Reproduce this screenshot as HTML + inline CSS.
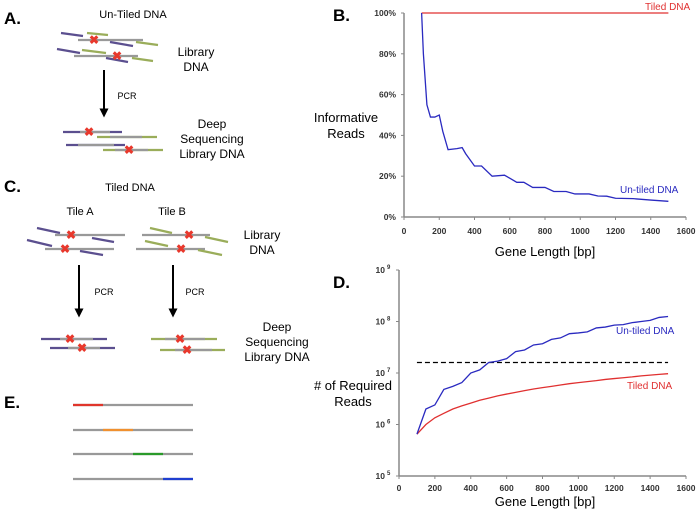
<!DOCTYPE html>
<html><head><meta charset="utf-8"><style>
body{margin:0;background:#fff;}
svg{display:block;font-family:"Liberation Sans",sans-serif;}
.t{font-family:"Liberation Sans",sans-serif;}
</style></head><body>
<svg id="fig" width="700" height="512" viewBox="0 0 700 512">
<defs><marker id="ah" viewBox="0 0 8 8" markerWidth="4.5" markerHeight="4.5" refX="4" refY="4" orient="auto"><path d="M0,0 L8,4 L0,8 z" fill="#000"/></marker></defs>
<!-- Panel A -->
<g>
<text x="4" y="24" font-size="17" font-weight="bold">A.</text>
<text x="133" y="18" font-size="11" text-anchor="middle" class="t">Un-Tiled DNA</text>
<g stroke-width="2.2" fill="none">
<line x1="61" y1="33" x2="83" y2="36" stroke="#5b4f8f"/><line x1="87" y1="33" x2="108" y2="35" stroke="#9aad5a"/>
<line x1="78" y1="40" x2="143" y2="40" stroke="#999"/><line x1="110" y1="42" x2="133" y2="46" stroke="#5b4f8f"/><line x1="136" y1="42" x2="158" y2="45" stroke="#9aad5a"/>
<line x1="57" y1="49" x2="80" y2="53" stroke="#5b4f8f"/><line x1="82" y1="50" x2="106" y2="53" stroke="#9aad5a"/>
<line x1="74" y1="56" x2="138" y2="56" stroke="#999"/><line x1="106" y1="58" x2="128" y2="62" stroke="#5b4f8f"/><line x1="132" y1="58" x2="153" y2="61" stroke="#9aad5a"/>
<line x1="63" y1="132" x2="122" y2="132" stroke="#5b4f8f"/><line x1="97" y1="137" x2="157" y2="137" stroke="#9aad5a"/>
<line x1="66" y1="145" x2="125" y2="145" stroke="#5b4f8f"/><line x1="103" y1="150" x2="163" y2="150" stroke="#9aad5a"/>
<line x1="80" y1="132" x2="110" y2="132" stroke="#999"/><line x1="110" y1="137" x2="142" y2="137" stroke="#999"/>
<line x1="78" y1="145" x2="114" y2="145" stroke="#999"/><line x1="115" y1="150" x2="148" y2="150" stroke="#999"/>
</g>
<g fill="#e8382c" font-size="12" font-weight="bold" text-anchor="middle"><text x="94" y="44">✖</text><text x="117" y="60">✖</text><text x="89" y="136">✖</text><text x="129" y="154">✖</text></g>
<text font-size="12" text-anchor="middle" class="t"><tspan x="196" y="56">Library</tspan><tspan x="196" y="71">DNA</tspan></text>
<line x1="104" y1="70" x2="104" y2="113" stroke="#000" stroke-width="2" marker-end="url(#ah)"/>
<text x="127" y="99" font-size="9" text-anchor="middle" class="t">PCR</text>
<text font-size="12" text-anchor="middle" class="t"><tspan x="212" y="128">Deep</tspan><tspan x="212" y="143">Sequencing</tspan><tspan x="212" y="158">Library DNA</tspan></text>
</g>
<!-- Panel C -->
<g>
<text x="4" y="192" font-size="17" font-weight="bold">C.</text>
<text x="130" y="191" font-size="11" text-anchor="middle" class="t">Tiled DNA</text>
<text x="80" y="215" font-size="11" text-anchor="middle" class="t">Tile A</text>
<text x="172" y="215" font-size="11" text-anchor="middle" class="t">Tile B</text>
<g stroke-width="2.2" fill="none">
<line x1="37" y1="228" x2="60" y2="233" stroke="#5b4f8f"/><line x1="55" y1="235" x2="125" y2="235" stroke="#999"/><line x1="92" y1="238" x2="114" y2="242" stroke="#5b4f8f"/>
<line x1="27" y1="240" x2="52" y2="246" stroke="#5b4f8f"/><line x1="45" y1="249" x2="114" y2="249" stroke="#999"/><line x1="80" y1="251" x2="103" y2="255" stroke="#5b4f8f"/>
<line x1="150" y1="228" x2="172" y2="233" stroke="#9aad5a"/><line x1="142" y1="235" x2="210" y2="235" stroke="#999"/><line x1="205" y1="237" x2="228" y2="242" stroke="#9aad5a"/>
<line x1="145" y1="241" x2="168" y2="246" stroke="#9aad5a"/><line x1="136" y1="249" x2="205" y2="249" stroke="#999"/><line x1="198" y1="250" x2="222" y2="255" stroke="#9aad5a"/>
<line x1="41" y1="339" x2="107" y2="339" stroke="#5b4f8f"/><line x1="60" y1="339" x2="93" y2="339" stroke="#999"/>
<line x1="50" y1="348" x2="115" y2="348" stroke="#5b4f8f"/><line x1="68" y1="348" x2="100" y2="348" stroke="#999"/>
<line x1="151" y1="339" x2="217" y2="339" stroke="#9aad5a"/><line x1="165" y1="339" x2="205" y2="339" stroke="#999"/>
<line x1="160" y1="350" x2="225" y2="350" stroke="#9aad5a"/><line x1="175" y1="350" x2="212" y2="350" stroke="#999"/>
</g>
<g fill="#e8382c" font-size="12" font-weight="bold" text-anchor="middle"><text x="71" y="239">✖</text><text x="65" y="253">✖</text><text x="189" y="239">✖</text><text x="181" y="253">✖</text><text x="70" y="343">✖</text><text x="82" y="352">✖</text><text x="180" y="343">✖</text><text x="187" y="354">✖</text></g>
<text font-size="12" text-anchor="middle" class="t"><tspan x="262" y="239">Library</tspan><tspan x="262" y="254">DNA</tspan></text>
<line x1="79" y1="265" x2="79" y2="313" stroke="#000" stroke-width="2" marker-end="url(#ah)"/>
<line x1="173" y1="265" x2="173" y2="313" stroke="#000" stroke-width="2" marker-end="url(#ah)"/>
<text x="104" y="295" font-size="9" text-anchor="middle" class="t">PCR</text>
<text x="195" y="295" font-size="9" text-anchor="middle" class="t">PCR</text>
<text font-size="12" text-anchor="middle" class="t"><tspan x="277" y="331">Deep</tspan><tspan x="277" y="346">Sequencing</tspan><tspan x="277" y="361">Library DNA</tspan></text>
</g>
<!-- Panel E -->
<g>
<text x="4" y="408" font-size="17" font-weight="bold">E.</text>
<g stroke-width="2.2"><line x1="73" y1="405" x2="193" y2="405" stroke="#999"/><line x1="73" y1="405" x2="103" y2="405" stroke="#e0352b"/>
<line x1="73" y1="430" x2="193" y2="430" stroke="#999"/><line x1="103" y1="430" x2="133" y2="430" stroke="#f0902f"/>
<line x1="73" y1="454" x2="193" y2="454" stroke="#999"/><line x1="133" y1="454" x2="163" y2="454" stroke="#2a9a2a"/>
<line x1="73" y1="479" x2="193" y2="479" stroke="#999"/><line x1="163" y1="479" x2="193" y2="479" stroke="#1f3fd0"/></g>
</g>
<g id="chartB"></g>
<g id="chartD"></g>
<text x="333" y="21" font-size="17" font-weight="bold">B.</text>
<text x="645" y="10" font-size="10" fill="#e03030">Tiled DNA</text>
<text x="620" y="193" font-size="10" fill="#2a2ac0">Un-tiled DNA</text>
<text font-size="13" text-anchor="middle"><tspan x="346" y="122">Informative</tspan><tspan x="346" y="138">Reads</tspan></text>
<text x="545" y="256" font-size="13" text-anchor="middle">Gene Length [bp]</text>
<text x="333" y="288" font-size="17" font-weight="bold">D.</text>
<text x="616" y="334" font-size="10" fill="#2a2ac0">Un-tiled DNA</text>
<text x="627" y="389" font-size="10" fill="#e03030">Tiled DNA</text>
<text font-size="13" text-anchor="middle"><tspan x="353" y="390">#&#160;of Required</tspan><tspan x="353" y="406">Reads</tspan></text>
<text x="545" y="506" font-size="13" text-anchor="middle">Gene Length [bp]</text>
</svg>
<script>
const xTicks=[0,200,400,600,800,1000,1200,1400,1600];
const bYTicks=[0,20,40,60,80,100];
const bX=[100,110,130,150,175,200,220,250,300,330,350,400,440,500,570,600,640,680,730,800,850,920,970,1050,1100,1150,1200,1300,1400,1500];
const bUntiled=[100,80,55,49,49,50,42,33,33.5,34,31,25,25,20,20.5,19,17,17,14.5,14.5,12.5,12.5,11.3,11.3,10.3,10.2,9.2,9,8.3,7.7];
const bTiledX=[100,1500];
const bTiled=[100,100];
const dX=[100,150,200,250,300,350,400,450,500,550,600,650,700,750,800,850,900,950,1000,1050,1100,1150,1200,1250,1300,1350,1400,1450,1500];
const dUntiled=[6.5e5,2e6,2.4e6,4.8e6,5.5e6,6.5e6,1.0e7,1.15e7,1.6e7,1.7e7,1.9e7,2.6e7,2.8e7,3.5e7,3.7e7,4.5e7,4.8e7,5.8e7,6.0e7,6.3e7,7.5e7,7.8e7,8.5e7,8.7e7,9.5e7,1.0e8,1.05e8,1.2e8,1.25e8];
const dTiled=[6.5e5,1.0e6,1.35e6,1.65e6,2.0e6,2.3e6,2.6e6,2.95e6,3.25e6,3.6e6,3.9e6,4.2e6,4.55e6,4.9e6,5.2e6,5.5e6,5.85e6,6.2e6,6.5e6,6.8e6,7.1e6,7.5e6,7.8e6,8.1e6,8.4e6,8.8e6,9.1e6,9.4e6,9.7e6];
const dThreshold=1.6e7;
const dYExp=[5,6,7,8,9];
const NS='http://www.w3.org/2000/svg';
function mk(p,t,a){const e=document.createElementNS(NS,t);for(const k in a)e.setAttribute(k,a[k]);p.appendChild(e);return e;}
// Chart B
const gB=document.getElementById('chartB');
const bx=v=>404+v*282/1600, by=v=>217-v*2.04;
mk(gB,'line',{x1:404,y1:13,x2:404,y2:217,stroke:'#888','stroke-width':1.5});
mk(gB,'line',{x1:404,y1:217,x2:686,y2:217,stroke:'#888','stroke-width':1.5});
bYTicks.forEach(v=>{mk(gB,'line',{x1:401,y1:by(v),x2:404,y2:by(v),stroke:'#888'});
 const t=mk(gB,'text',{x:396,y:by(v)+3,'font-size':8.5,'font-weight':'bold','text-anchor':'end',fill:'#333'});t.textContent=v+'%';
 
 });
xTicks.forEach(v=>{mk(gB,'line',{x1:bx(v),y1:217,x2:bx(v),y2:220,stroke:'#888'});
 const t=mk(gB,'text',{x:bx(v),y:234,'font-size':8.5,'font-weight':'bold','text-anchor':'middle',fill:'#333'});t.textContent=v;
 
 });
let pl=mk(gB,'polyline',{points:bTiledX.map((x,i)=>bx(x)+','+by(bTiled[i])).join(' '),fill:'none',stroke:'#e03030','stroke-width':1.3});


pl=mk(gB,'polyline',{points:bX.map((x,i)=>bx(x)+','+by(bUntiled[i])).join(' '),fill:'none',stroke:'#2a2ac0','stroke-width':1.3});


// Chart D
const gD=document.getElementById('chartD');
const dx=v=>399+v*287/1600, dy=v=>476-(Math.log10(v)-5)*51.5;
mk(gD,'line',{x1:399,y1:270,x2:399,y2:476,stroke:'#888','stroke-width':1.5});
mk(gD,'line',{x1:399,y1:476,x2:686,y2:476,stroke:'#888','stroke-width':1.5});
dYExp.forEach(e=>{const y=dy(Math.pow(10,e));mk(gD,'line',{x1:396,y1:y,x2:399,y2:y,stroke:'#888'});
 const t=mk(gD,'text',{x:385,y:y+3,'font-size':8.5,'font-weight':'bold','text-anchor':'end',fill:'#333'});t.textContent='10';
 
 
 const s=mk(gD,'text',{x:387,y:y-1,'font-size':6,'font-weight':'bold',fill:'#333'});s.textContent=e;});
xTicks.forEach(v=>{mk(gD,'line',{x1:dx(v),y1:476,x2:dx(v),y2:479,stroke:'#888'});
 const t=mk(gD,'text',{x:dx(v),y:491,'font-size':8.5,'font-weight':'bold','text-anchor':'middle',fill:'#333'});t.textContent=v;
 
 });
pl=mk(gD,'line',{x1:dx(100),y1:dy(dThreshold),x2:dx(1500),y2:dy(dThreshold),stroke:'#000','stroke-width':1.3,'stroke-dasharray':'5,3'});


pl=mk(gD,'polyline',{points:dX.map((x,i)=>dx(x)+','+dy(dTiled[i])).join(' '),fill:'none',stroke:'#e03030','stroke-width':1.3});


pl=mk(gD,'polyline',{points:dX.map((x,i)=>dx(x)+','+dy(dUntiled[i])).join(' '),fill:'none',stroke:'#2a2ac0','stroke-width':1.3});


</script>
</body></html>
